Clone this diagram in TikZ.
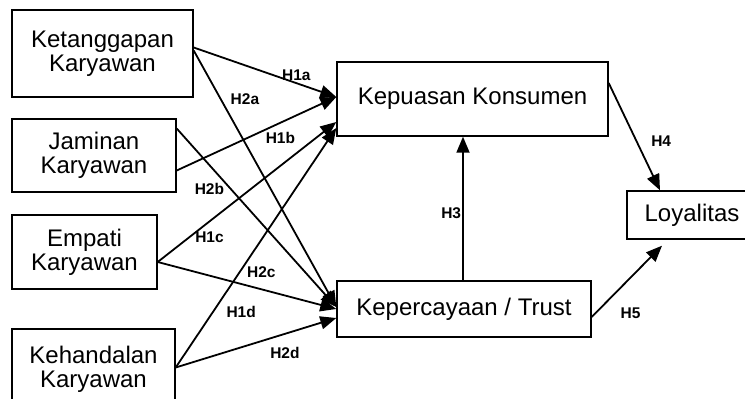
\documentclass[tikz,border=0pt]{standalone}
\usepackage{fontspec}
\setmainfont{Liberation Sans}
\usetikzlibrary{arrows.meta}

\begin{document}
\begin{tikzpicture}[
        x=1pt, y=-1pt, % pixel grid, y downwards
        box/.style={draw, line width=1.4pt, align=center, inner sep=0pt,
            font={\fontsize{24}{24}\selectfont}},
        hyp/.style={-{Triangle[length=16pt, width=13pt]}, line width=1.8pt},
        lbl/.style={font={\fontsize{15.5}{15.5}\selectfont\bfseries}, inner sep=2pt}
    ]
        % Frame
        \useasboundingbox (0,0) rectangle (745,399);
        \clip (0,0) rectangle (745,399);

        % Service quality dimensions
        \node[box, minimum width=181pt, minimum height=87pt] (ket) at (102.5,53.5) {Ketanggapan\\ Karyawan};
        \node[box, minimum width=164pt, minimum height=73pt] (jam) at (94,155.5) {Jaminan\\Karyawan};
        \node[box, minimum width=145pt, minimum height=74pt] (emp) at (84.5,252) {Empati\\Karyawan};
        \node[box, minimum width=163pt, minimum height=81pt] (keh) at (93.5,369.5) {Kehandalan\\Karyawan};

        % Mediators and outcome
        \node[box, minimum width=271pt, minimum height=74pt] (kep) at (472.5,99) {Kepuasan Konsumen};
        \node[box, minimum width=254pt, minimum height=56pt] (kpc) at (464,309) {Kepercayaan / Trust};
        \node[box, minimum width=130pt, minimum height=48pt] (loy) at (692,215) {Loyalitas};

        % Hypotheses H1
        \draw[hyp] ([yshift=6pt]ket.east) -- ([yshift=2pt]kep.west) node[lbl, pos=0.72, above] {H1a};
        \draw[hyp] ([yshift=-15pt]jam.east) -- ([yshift=2pt]kep.west) node[lbl, pos=0.65, below, yshift=-7pt] {H1b};
        \draw[hyp] ([yshift=-10pt]emp.east) -- ([yshift=-23pt]kep.west) node[lbl, pos=0.29, below, yshift=-8pt] {H1c};
        \draw[hyp] ([yshift=2pt]keh.east) -- ([yshift=-29pt]kep.west) node[lbl, pos=0.23, right, xshift=11pt] {H1d};

        % Hypotheses H2
        \draw[hyp] ([yshift=3pt]ket.east) -- ([yshift=2pt]kpc.west) node[lbl, pos=0.19, right, xshift=7pt] {H2a};
        \draw[hyp] ([yshift=27pt]jam.east) -- ([yshift=2pt]kpc.west) node[lbl, pos=0.34, left, xshift=-4pt] {H2b};
        \draw[hyp] ([yshift=-10pt]emp.east) -- (kpc.west) node[lbl, pos=0.58, above, yshift=9pt] {H2c};
        \draw[hyp] ([yshift=2pt]keh.east) -- ([yshift=-9pt]kpc.west) node[lbl, pos=0.68, below, yshift=-11pt] {H2d};

        % H3 - H5
        \draw[hyp] ([xshift=-1pt]kpc.north) -- ([xshift=-1pt]kpc.north |- kep.south) node[lbl, midway, left, inner sep=1pt, yshift=-5pt] {H3};
        \draw[hyp] ([yshift=16pt]kep.east) -- ([xshift=-32pt]loy.north) node[lbl, pos=0.54, right, xshift=12pt] {H4};
        \draw[hyp] ([yshift=-8pt]kpc.east) -- ([xshift=-30pt, yshift=-6pt]loy.south) node[lbl, pos=0.3, below right, xshift=5pt, yshift=-9pt] {H5};

    \end{tikzpicture}
\end{document}
